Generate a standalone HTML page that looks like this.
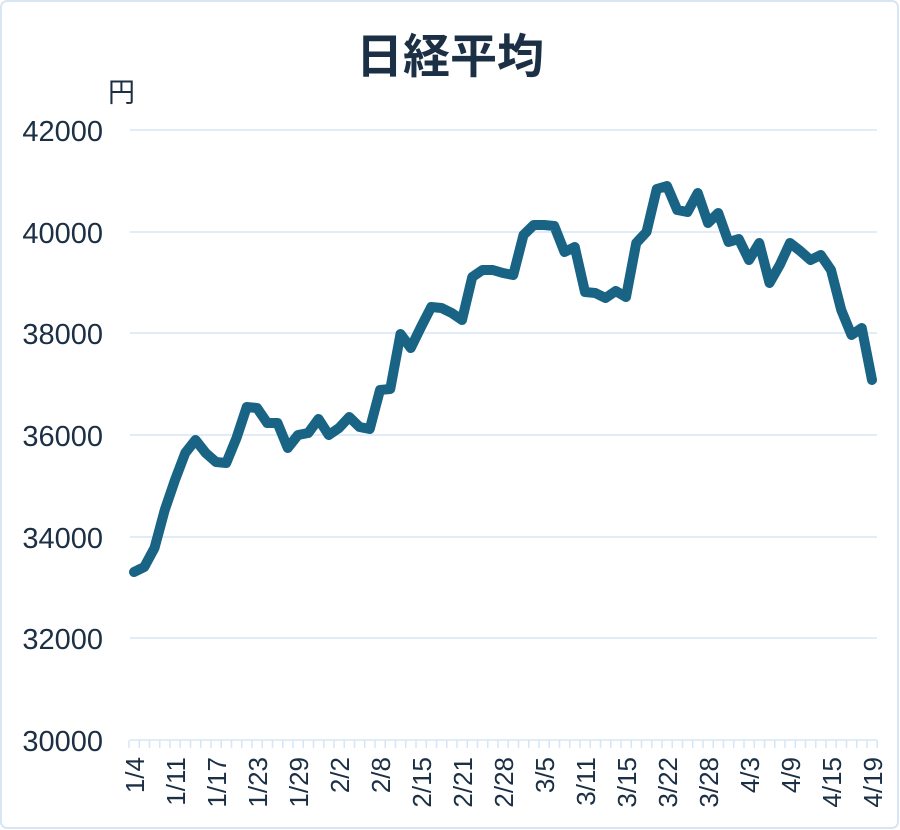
<!DOCTYPE html>
<html><head><meta charset="utf-8"><style>
html,body{margin:0;padding:0;background:#fff;}
svg{display:block;}
text{font-family:"Liberation Sans","Noto Sans CJK JP",sans-serif;fill:#1b2f45;}
</style></head><body>
<svg width="900" height="830" viewBox="0 0 900 830" xmlns="http://www.w3.org/2000/svg">
<rect x="1" y="1" width="897" height="827" rx="6" fill="#fff" stroke="#d8e6f3" stroke-width="2"/>
<text x="450" y="73" text-anchor="middle" font-size="47" font-weight="bold" style="font-family:'Noto Sans CJK JP',sans-serif">日経平均</text>
<text x="108" y="102" font-size="27" style="font-family:'Noto Sans CJK JP',sans-serif">円</text>
<g stroke="#d6e6f5" stroke-width="1.5">
<line x1="130" y1="130" x2="877" y2="130"/>
<line x1="130" y1="232" x2="877" y2="232"/>
<line x1="130" y1="333" x2="877" y2="333"/>
<line x1="130" y1="435" x2="877" y2="435"/>
<line x1="130" y1="537" x2="877" y2="537"/>
<line x1="130" y1="638" x2="877" y2="638"/>
<line x1="130" y1="740" x2="877" y2="740"/>
</g>
<line x1="128.25" y1="744" x2="878" y2="744" stroke="#d6e6f5" stroke-width="8" stroke-dasharray="1.5 8.75"/>
<g font-size="29" text-anchor="end">
<text x="103" y="141">42000</text>
<text x="103" y="243">40000</text>
<text x="103" y="344">38000</text>
<text x="103" y="446">36000</text>
<text x="103" y="548">34000</text>
<text x="103" y="649">32000</text>
<text x="103" y="751">30000</text>
</g>
<g font-size="26" text-anchor="end">
<text transform="translate(144,757) rotate(-90)">1/4</text>
<text transform="translate(185,757) rotate(-90)">1/11</text>
<text transform="translate(226,757) rotate(-90)">1/17</text>
<text transform="translate(267,757) rotate(-90)">1/23</text>
<text transform="translate(308,757) rotate(-90)">1/29</text>
<text transform="translate(349,757) rotate(-90)">2/2</text>
<text transform="translate(390,757) rotate(-90)">2/8</text>
<text transform="translate(431,757) rotate(-90)">2/15</text>
<text transform="translate(472,757) rotate(-90)">2/21</text>
<text transform="translate(513,757) rotate(-90)">2/28</text>
<text transform="translate(554,757) rotate(-90)">3/5</text>
<text transform="translate(595,757) rotate(-90)">3/11</text>
<text transform="translate(636,757) rotate(-90)">3/15</text>
<text transform="translate(677,757) rotate(-90)">3/22</text>
<text transform="translate(718,757) rotate(-90)">3/28</text>
<text transform="translate(759,757) rotate(-90)">4/3</text>
<text transform="translate(800,757) rotate(-90)">4/9</text>
<text transform="translate(841,757) rotate(-90)">4/15</text>
<text transform="translate(882,757) rotate(-90)">4/19</text>
</g>
<polyline fill="none" stroke="#196384" stroke-width="10" stroke-linejoin="round" stroke-linecap="round" points="134,572 144.25,567 154.5,548 164.75,510 175,480 185.25,453 195.5,440 205.75,453 216,462 226.25,463 236.5,438 246.75,407 257,408 267.25,423 277.5,423 287.75,448 298,435 308.25,433 318.5,419 328.75,435 339,428 349.25,417 359.5,427 369.75,429 380,390 390.25,389 400.5,334 410.75,348 421,327 431.25,307 441.5,308 451.75,313 462,320 472.25,277 482.5,270 492.75,270 503,273 513.25,275 523.5,235 533.75,225 544,225 554.25,226 564.5,252 574.75,247 585,292 595.25,293 605.5,298 615.75,291 626,297 636.25,243 646.5,232 656.75,189 667,186 677.25,210 687.5,212 697.75,193 708,223 718.25,213 728.5,242 738.75,239 749,260 759.25,243 769.5,283 779.75,265 790,243 800.25,251 810.5,260 820.75,255 831,270 841.25,310 851.5,335 861.75,328 872,380"/>
</svg>
</body></html>
